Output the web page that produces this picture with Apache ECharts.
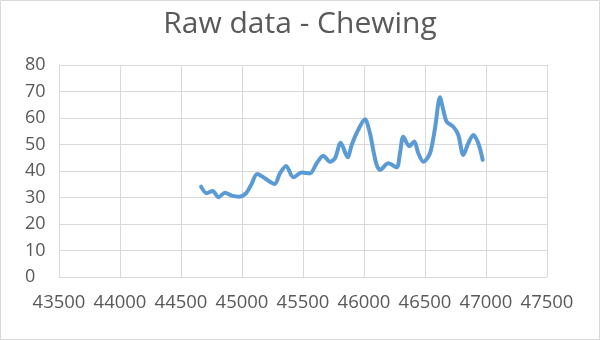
<!DOCTYPE html>
<html>
<head>
<meta charset="utf-8">
<script src="https://cdn.jsdelivr.net/npm/echarts@6/dist/echarts.min.js"></script>
<style>html,body{margin:0;padding:0;background:#fff}#c{width:600px;height:340px}</style>
</head>
<body>
<div id="c"></div>
<script>
var xValues = [44664,44711,44760,44806,44861,44916,44975,45033,45074,45125,45189,45268,45311,45361,45421,45490,45557,45612,45666,45721,45762,45809,45866,45899,45945,46008,46049,46076,46104,46131,46199,46268,46295,46322,46371,46412,46445,46486,46541,46582,46623,46650,46678,46732,46773,46814,46855,46896,46937,46973];
var yValues = [34.1,31.6,32.5,30.1,31.8,30.7,30.3,31.6,34.7,38.9,37.2,35.1,39.1,41.9,37.6,39.4,39.1,42.9,45.8,43.5,44.8,50.7,45.2,49.8,54.8,59.5,54.2,47.9,42.3,40.4,42.9,41.4,46.8,52.9,49.4,51.1,46.7,43.5,46.7,56.1,67.8,63.0,58.6,56.7,53.6,46.0,50.5,53.6,50.5,44.2];
var titleText = 'Raw data - Chewing';
var xMin = 43500, xMax = 47500, xStep = 500;
var yMin = 0, yMax = 80, yStep = 10;

var data = xValues.map(function(x, i){ return [x, yValues[i]]; });
var chart = echarts.init(document.getElementById('c'), null, {renderer: 'canvas'});
var font = '"Open Sans", "DejaVu Sans", sans-serif';
chart.setOption({
  animation: false,
  backgroundColor: '#fff',
  title: {
    text: titleText, left: 'center', top: 4,
    textStyle: {fontFamily: font, fontSize: 30, fontWeight: 'normal', color: '#595959'}
  },
  grid: {left: 59, right: 53, top: 65, bottom: 63},
  xAxis: {
    type: 'value', min: xMin, max: xMax, interval: xStep,
    axisLine: {show: true, lineStyle: {color: '#d9d9d9', width: 1}},
    axisTick: {show: false},
    splitLine: {show: true, lineStyle: {color: '#d9d9d9', width: 1}},
    axisLabel: {fontFamily: font, fontSize: 18.5, color: '#595959', margin: 16,
      showMinLabel: true, showMaxLabel: true, formatter: function(v){ return String(v); }}
  },
  yAxis: {
    type: 'value', min: yMin, max: yMax, interval: yStep,
    axisLine: {show: true, lineStyle: {color: '#d9d9d9', width: 1}},
    axisTick: {show: false},
    splitLine: {show: true, lineStyle: {color: '#d9d9d9', width: 1}},
    axisLabel: {fontFamily: font, fontSize: 18, color: '#595959', margin: 34, align: 'left'}
  },
  graphic: [{
    type: 'rect', shape: {x: 0.5, y: 0.5, width: 599, height: 339},
    style: {fill: 'none', stroke: '#d9d9d9', lineWidth: 1}, silent: true, z: 100
  }],
  series: [{
    type: 'line', data: data, smooth: 0.3, symbol: 'none',
    lineStyle: {color: '#5B9BD5', width: 4, cap: 'round', join: 'round'}
  }]
});
</script>
</body>
</html>
